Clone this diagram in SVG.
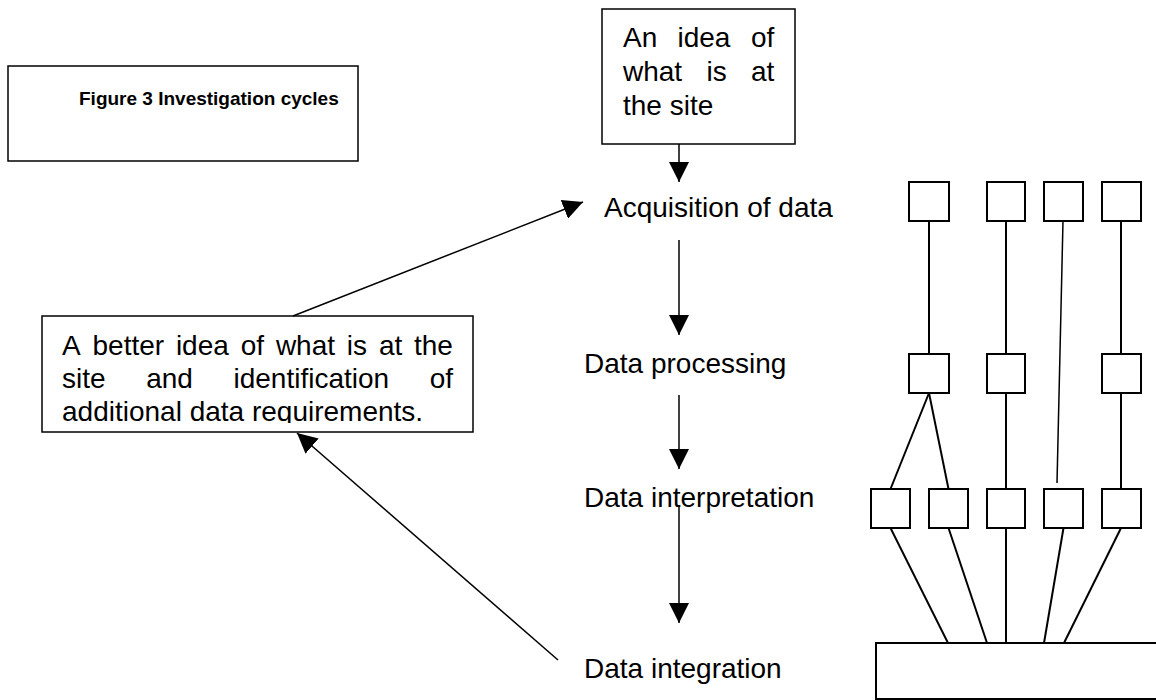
<svg xmlns="http://www.w3.org/2000/svg" width="1156" height="700" viewBox="0 0 1156 700">
<defs>
<style>
.box{fill:#fff;stroke:#000;stroke-width:1.5}
.sq{fill:#fff;stroke:#000;stroke-width:2}
.t{font-family:"Liberation Sans",Arial,sans-serif;font-size:28px;fill:#000}
.title{font-family:"Liberation Sans",Arial,sans-serif;font-size:19px;font-weight:bold;fill:#000}
.ln{stroke:#000;stroke-width:1.5;fill:none}
.tr{stroke:#000;stroke-width:2;fill:none}
.arr{marker-end:url(#ah)}
</style>
<marker id="ah" markerUnits="userSpaceOnUse" markerWidth="20" markerHeight="20" viewBox="0 0 20 20" refX="20" refY="10" orient="auto">
<path d="M0,0 L20,10 L0,20 z" fill="#000"/>
</marker>
<clipPath id="clipLast"><rect x="40" y="395" width="440" height="28"/></clipPath>
</defs>
<rect width="1156" height="700" fill="#fff"/>

<g id="title">
<rect class="box" x="8" y="66" width="350" height="95"/>
<text class="title" x="79" y="105">Figure 3 Investigation cycles</text>
</g>

<g id="idea">
<rect class="box" x="602" y="9" width="193" height="135"/>
<text class="t" y="47"><tspan x="623">An</tspan><tspan x="677.5">idea</tspan><tspan x="751">of</tspan></text>
<text class="t" y="81"><tspan x="623">what</tspan><tspan x="706.5">is</tspan><tspan x="751">at</tspan></text>
<text class="t" x="623" y="115">the site</text>
</g>

<g id="better">
<rect class="box" x="42" y="316" width="431" height="116"/>
<text class="t" y="355"><tspan x="62">A</tspan><tspan x="92.5">better</tspan><tspan x="175.9">idea</tspan><tspan x="240.7">of</tspan><tspan x="275.9">what</tspan><tspan x="346.8">is</tspan><tspan x="378.9">at</tspan><tspan x="414">the</tspan></text>
<text class="t" y="388"><tspan x="62">site</tspan><tspan x="146.2">and</tspan><tspan x="233.5">identification</tspan><tspan x="429.7">of</tspan></text>
<text class="t" x="62" y="421" clip-path="url(#clipLast)">additional data requirements.</text>
</g>

<g id="acquisition"><text class="t" x="604" y="217">Acquisition of data</text></g>
<g id="processing"><text class="t" x="584" y="373">Data processing</text></g>
<g id="interpretation"><text class="t" x="584" y="507">Data interpretation</text></g>
<g id="integration"><text class="t" x="584" y="678">Data integration</text></g>

<g id="connectors">
<line class="ln arr" x1="679" y1="144" x2="679" y2="182"/>
<line class="ln arr" x1="679" y1="240" x2="679" y2="335"/>
<line class="ln arr" x1="679" y1="395" x2="679" y2="469"/>
<line class="ln arr" x1="679" y1="507" x2="679" y2="623"/>
<line class="ln arr" x1="293" y1="316" x2="583" y2="202"/>
<line class="ln arr" x1="558" y1="660" x2="297" y2="433"/>
</g>

<g id="tree-links">
<line class="tr" x1="929" y1="221" x2="929" y2="354"/>
<line class="tr" x1="1006" y1="221" x2="1006" y2="354"/>
<line class="ln" x1="1063" y1="221" x2="1057" y2="483"/>
<line class="tr" x1="1121" y1="221" x2="1121" y2="354"/>
<line class="tr" x1="929" y1="393" x2="890.5" y2="489"/>
<line class="tr" x1="929" y1="393" x2="948.5" y2="489"/>
<line class="tr" x1="1006" y1="393" x2="1006" y2="489"/>
<line class="tr" x1="1121" y1="393" x2="1121" y2="489"/>
<line class="tr" x1="890.5" y1="528" x2="948" y2="643"/>
<line class="tr" x1="948.5" y1="528" x2="987" y2="643"/>
<line class="tr" x1="1006" y1="528" x2="1006" y2="643"/>
<line class="tr" x1="1063.5" y1="528" x2="1044" y2="643"/>
<line class="tr" x1="1121" y1="528" x2="1064" y2="643"/>
</g>

<g id="tree-top">
<rect class="sq" x="909" y="182" width="40" height="39"/>
<rect class="sq" x="987" y="182" width="38" height="39"/>
<rect class="sq" x="1044" y="182" width="39" height="39"/>
<rect class="sq" x="1102" y="182" width="39" height="39"/>
</g>
<g id="tree-mid">
<rect class="sq" x="909" y="354" width="40" height="39"/>
<rect class="sq" x="987" y="354" width="38" height="39"/>
<rect class="sq" x="1102" y="354" width="39" height="39"/>
</g>
<g id="tree-low">
<rect class="sq" x="871" y="489" width="39" height="39"/>
<rect class="sq" x="929" y="489" width="39" height="39"/>
<rect class="sq" x="987" y="489" width="38" height="39"/>
<rect class="sq" x="1044" y="489" width="39" height="39"/>
<rect class="sq" x="1102" y="489" width="39" height="39"/>
</g>
<g id="tree-base">
<rect class="sq" x="876" y="643" width="300" height="56"/>
</g>
</svg>
